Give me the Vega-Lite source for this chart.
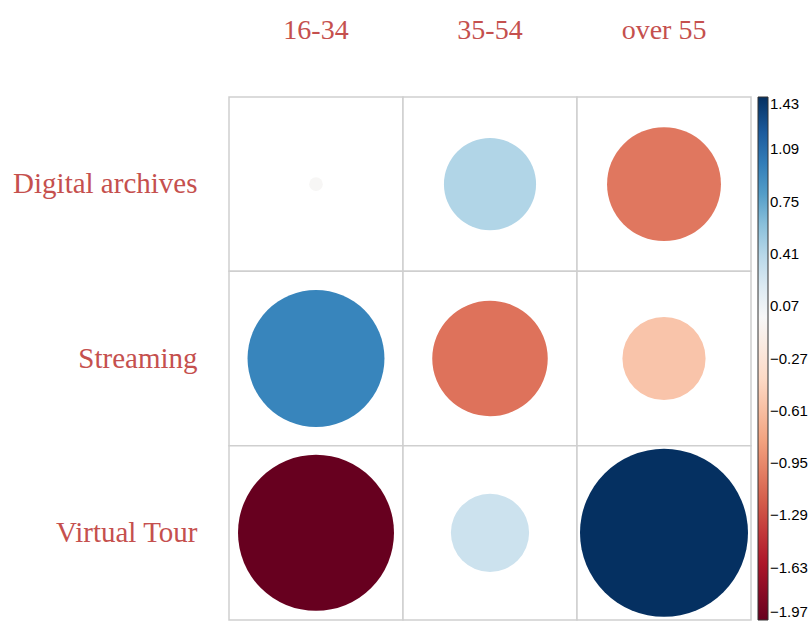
{
  "$schema": "https://vega.github.io/schema/vega-lite/v6.json",
  "width": 522,
  "height": 523,
  "autosize": {"type": "none"},
  "padding": {"left": 229, "top": 97, "right": 57, "bottom": 8},
  "background": "white",
  "data": {
    "values": [
      {"channel": "Digital archives", "age": "16-34", "value": -0.015},
      {"channel": "Digital archives", "age": "35-54", "value": 0.43},
      {"channel": "Digital archives", "age": "over 55", "value": -1.05},
      {"channel": "Streaming", "age": "16-34", "value": 0.95},
      {"channel": "Streaming", "age": "35-54", "value": -1.08},
      {"channel": "Streaming", "age": "over 55", "value": -0.56},
      {"channel": "Virtual Tour", "age": "16-34", "value": -1.97},
      {"channel": "Virtual Tour", "age": "35-54", "value": 0.31},
      {"channel": "Virtual Tour", "age": "over 55", "value": 1.43}
    ]
  },
  "encoding": {
    "x": {
      "field": "age",
      "type": "nominal",
      "sort": ["16-34", "35-54", "over 55"],
      "scale": {"paddingInner": 0, "paddingOuter": 0},
      "title": null,
      "axis": {
        "orient": "top",
        "domain": false,
        "ticks": false,
        "grid": false,
        "labelAngle": 0,
        "labelFont": "Liberation Serif",
        "labelFontSize": 28,
        "labelColor": "#c5504e",
        "labelPadding": 53
      }
    },
    "y": {
      "field": "channel",
      "type": "nominal",
      "sort": ["Digital archives", "Streaming", "Virtual Tour"],
      "scale": {"paddingInner": 0, "paddingOuter": 0},
      "title": null,
      "axis": {
        "orient": "left",
        "domain": false,
        "ticks": false,
        "grid": false,
        "labelFont": "Liberation Serif",
        "labelFontSize": 29,
        "labelColor": "#c5504e",
        "labelPadding": 32,
        "labelLimit": 300
      }
    }
  },
  "layer": [
    {
      "mark": {"type": "rect", "fill": "white", "stroke": "#cfcfcf", "strokeWidth": 1.5}
    },
    {
      "mark": {"type": "point", "shape": "circle", "filled": true, "opacity": 1, "strokeWidth": 0},
      "encoding": {
        "color": {
          "field": "value",
          "type": "quantitative",
          "scale": {
            "domain": [-1.97, -1.576, -1.182, -0.788, -0.394, 0, 0.286, 0.572, 0.858, 1.144, 1.43],
            "range": ["#67001f", "#b2182b", "#d6604d", "#f4a582", "#fddbc7", "#f7f7f7", "#d1e5f0", "#92c5de", "#4393c3", "#2166ac", "#053061"],
            "interpolate": "rgb"
          },
          "legend": {
            "title": null,
            "orient": "right",
            "offset": 7,
            "padding": 0,
            "direction": "vertical",
            "gradientLength": 523,
            "gradientThickness": 10,
            "gradientStrokeColor": "#333333",
            "gradientStrokeWidth": 1,
            "values": [1.43, 1.09, 0.75, 0.41, 0.07, -0.27, -0.61, -0.95, -1.29, -1.63, -1.97],
            "format": ".2f",
            "labelOverlap": false,
            "labelFont": "Liberation Sans",
            "labelFontSize": 15,
            "labelColor": "#000000",
            "labelOffset": 2
          }
        },
        "size": {
          "field": "value",
          "type": "quantitative",
          "scale": {"domain": [-1.97, 0, 1.43], "range": [24336, 0, 28224]},
          "legend": null
        }
      }
    }
  ],
  "config": {"view": {"stroke": null}}
}
